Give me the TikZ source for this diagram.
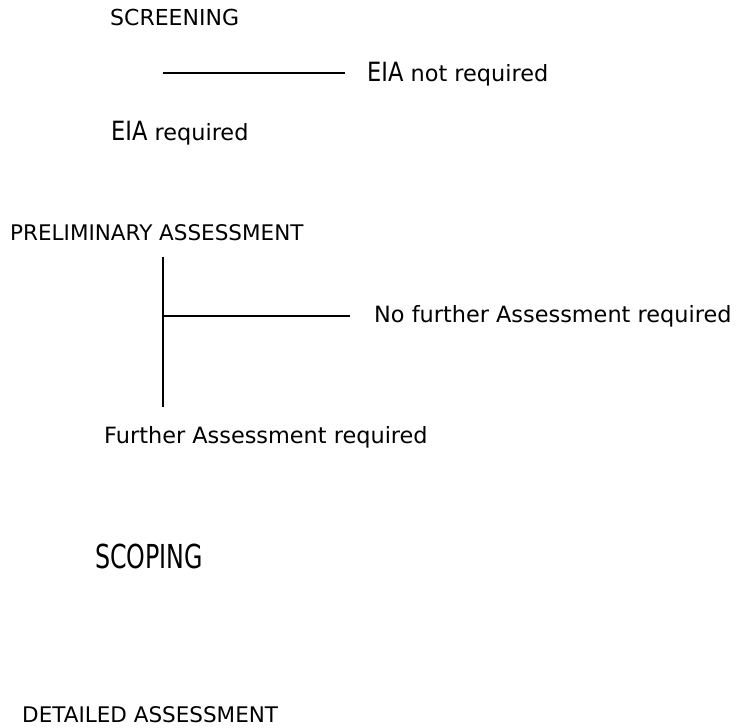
\documentclass[tikz,border=0pt]{standalone}
\usepackage{fontspec}
\usepackage{graphicx}
\setmainfont{DejaVu Sans}
\usetikzlibrary{calc}

% tall, narrow lettering for the "EIA" and "SCOPING" labels
\newcommand{\narrowtext}[3]{\scalebox{#1}[1]{\fontsize{#2}{#2}\selectfont #3}}
\newcommand{\eia}{\narrowtext{0.85}{26.5}{EIA}}

\tikzset{
  label text/.style={inner sep=0pt, anchor=base west, font=\fontsize{22.4}{26}\selectfont},
  rule line/.style={line width=1.3pt, line cap=butt},
  branch line/.style={line width=2pt, line cap=butt}
}

\begin{document}
\begin{tikzpicture}[x=1pt, y=-1pt]
  \useasboundingbox (0,0) rectangle (739,728);

  % stage titles and outcomes
  \node[label text, font=\fontsize{22}{26}\selectfont] (scr) at (110,25) {SCREENING};
  \node[label text] (notreq)   at (367,81)  {\eia{} not required};
  \node[label text] (req)      at (111,140) {\eia{} required};
  \node[label text, font=\fontsize{21.5}{26}\selectfont] (prelim) at (10,240) {PRELIMINARY ASSESSMENT};
  \node[label text] (nofurther) at (374,322) {No further Assessment required};
  \node[label text] (further)  at (104,443) {Further Assessment required};
  \node[label text] (scoping)  at (95,568)  {\narrowtext{0.72}{33}{SCOPING}};
  \node[label text, font=\fontsize{21.5}{26}\selectfont] (detailed) at (22,722) {DETAILED ASSESSMENT};

  % screening branch
  \coordinate (s1) at (163,73);
  \coordinate (s2) at (345,73);
  \draw[rule line] (s1) -- (s2);

  % preliminary assessment branch
  \coordinate (vtop) at (163,257);
  \coordinate (vbot) at (163,407);
  \coordinate (hj)   at (162,316);
  \coordinate (hend) at (350,316);
  \draw[rule line, line width=1.5pt] (vtop) -- (vbot);
  \draw[branch line] (hj) -- (hend);
\end{tikzpicture}
\end{document}
